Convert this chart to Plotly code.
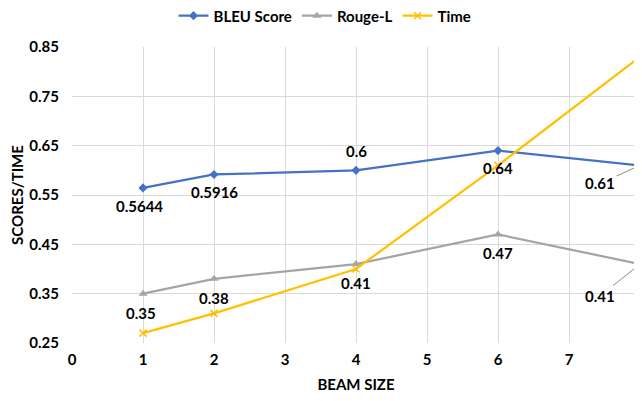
import plotly.graph_objects as go

beam_sizes = [1, 2, 4, 6, 8]
bleu = [0.5644, 0.5916, 0.6, 0.64, 0.61]
rouge = [0.35, 0.38, 0.41, 0.47, 0.41]
time_vals = [0.27, 0.31, 0.40, 0.61, 0.83]
bleu_labels = ["0.5644", "0.5916", "0.6", "0.64", "0.61"]
rouge_labels = ["0.35", "0.38", "0.41", "0.47", "0.41"]

FONT = "Lato"
LABEL_FONT = dict(family=FONT, size=15, color="black", weight="bold")

fig = go.Figure()
fig.add_trace(go.Scatter(x=beam_sizes, y=bleu, name="BLEU Score", mode="lines+markers",
                         cliponaxis=False,
                         line=dict(color="#4472C4", width=2.25),
                         marker=dict(symbol="diamond", size=7, color="#4472C4")))
fig.add_trace(go.Scatter(x=beam_sizes, y=rouge, name="Rouge-L", mode="lines+markers",
                         cliponaxis=False,
                         line=dict(color="#A5A5A5", width=2.25),
                         marker=dict(symbol="triangle-up", size=8, color="#A5A5A5")))
fig.add_trace(go.Scatter(x=beam_sizes, y=time_vals, name="Time", mode="lines+markers",
                         cliponaxis=False,
                         line=dict(color="#FFC000", width=2.25),
                         marker=dict(symbol="x-thin", size=7, color="#FFC000",
                                     line=dict(color="#FFC000", width=1.5))))

# data label offsets (pixels); last point of each series uses a leader line
bleu_offsets = [(-4, -18), (0, -18), (0, 19), (0, -17), (-40, 18)]
rouge_offsets = [(-2, -19), (0, -19), (0, -19), (0, -19), (-40, 32)]
for xs, ys, labs, offs in [(beam_sizes, bleu, bleu_labels, bleu_offsets),
                           (beam_sizes, rouge, rouge_labels, rouge_offsets)]:
    for i, (x, y, lab, off) in enumerate(zip(xs, ys, labs, offs)):
        if i == len(xs) - 1:
            fig.add_annotation(x=x, y=y, text=lab, showarrow=True, arrowhead=0,
                               arrowwidth=1, arrowcolor="#8C8C8C", ax=off[0], ay=off[1],
                               standoff=3, font=LABEL_FONT)
        else:
            fig.add_annotation(x=x, y=y, text=lab, showarrow=False,
                               xshift=off[0], yshift=off[1], font=LABEL_FONT)

fig.update_layout(
    width=634, height=385,
    margin=dict(l=64, r=2, t=39, b=50, autoexpand=False),
    paper_bgcolor="white", plot_bgcolor="white",
    font=dict(family=FONT, size=14, color="black", weight="bold"),
    legend=dict(orientation="h", x=0.5, xanchor="center", xref="container",
                y=1.105, yanchor="middle", yref="paper",
                font=dict(family=FONT, size=15, color="black", weight="bold"),
                itemwidth=30, tracegroupgap=0),
    showlegend=True,
)
fig.update_xaxes(range=[0, 8], dtick=1, tick0=0, showgrid=True, gridcolor="#D9D9D9",
                 zeroline=False, showline=False, ticks="", ticklabelstandoff=6,
                 ticklabeloverflow="allow",
                 title=dict(text="BEAM SIZE", font=dict(family=FONT, size=15, weight="bold"), standoff=12),
                 tickfont=dict(family=FONT, size=15, weight="bold"))
fig.update_yaxes(range=[0.25, 0.85], dtick=0.1, tick0=0.25, tickformat=".2f",
                 showgrid=True, gridcolor="#D9D9D9", zeroline=False, showline=False,
                 ticks="", ticklabelstandoff=12,
                 title=dict(text="SCORES/TIME", font=dict(family=FONT, size=15, weight="bold"), standoff=2),
                 tickfont=dict(family=FONT, size=15, weight="bold"))
fig.write_html("out.html")
